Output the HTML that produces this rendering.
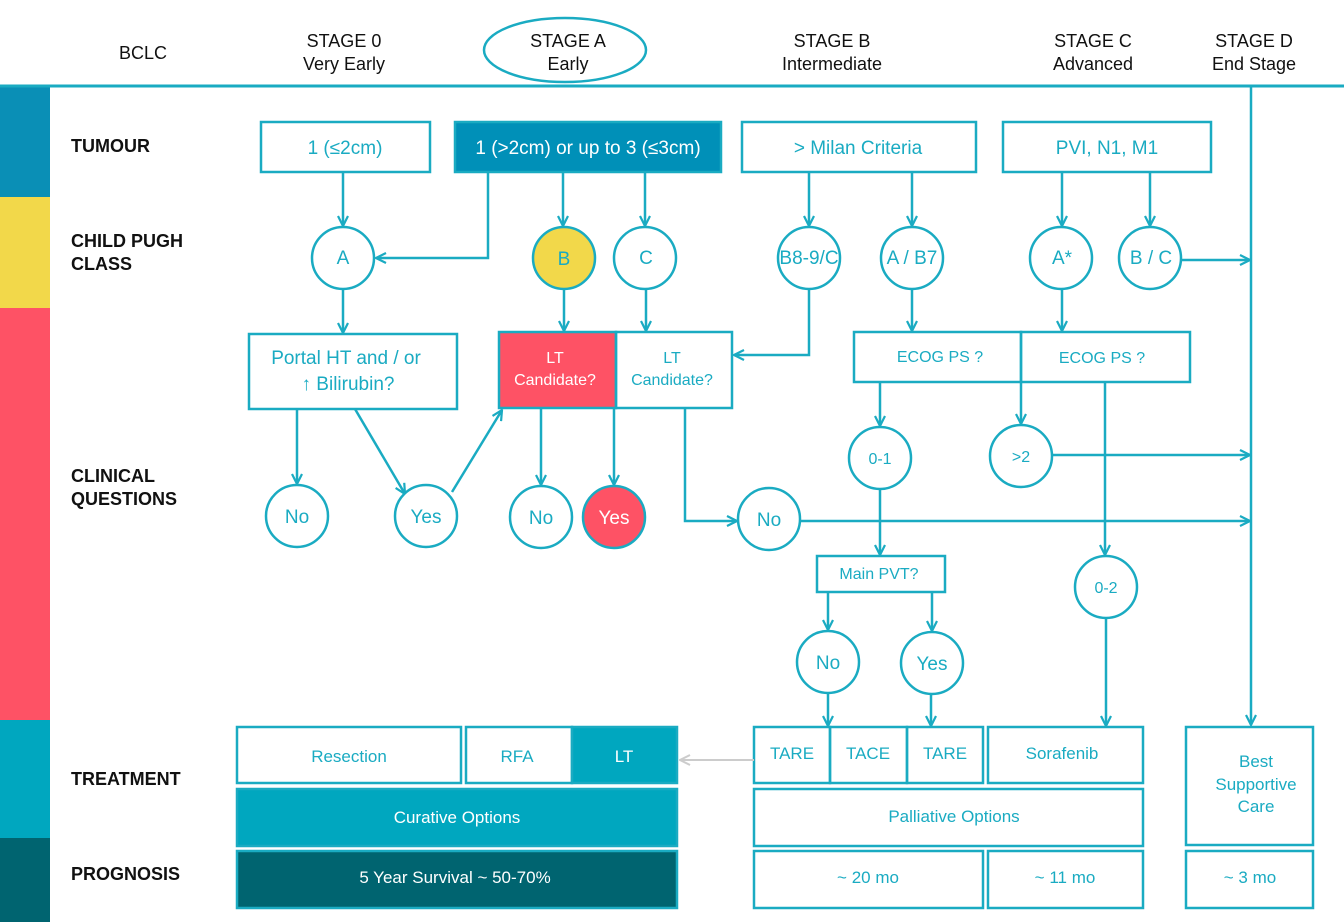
<!DOCTYPE html>
<html><head><style>body{margin:0;background:#fff}svg{display:block}</style></head><body>
<svg width="1344" height="922" viewBox="0 0 1344 922" xmlns="http://www.w3.org/2000/svg" font-family="Liberation Sans, sans-serif">
<defs><marker id="a" viewBox="0 0 12 12" refX="11" refY="6" markerWidth="12" markerHeight="12" markerUnits="userSpaceOnUse" orient="auto"><polyline points="1,1 11,6 1,11" fill="none" stroke="#1aabc2" stroke-width="2.2"/></marker>
<marker id="g" viewBox="0 0 12 12" refX="11" refY="6" markerWidth="12" markerHeight="12" markerUnits="userSpaceOnUse" orient="auto"><polyline points="1,1 11,6 1,11" fill="none" stroke="#ccc" stroke-width="2"/></marker></defs>
<rect x="0" y="86" width="50" height="111" fill="#0a8fb6"/><rect x="0" y="197" width="50" height="111" fill="#f2d84a"/><rect x="0" y="308" width="50" height="412" fill="#fe5265"/><rect x="0" y="720" width="50" height="118" fill="#00a7bf"/><rect x="0" y="838" width="50" height="84" fill="#006470"/>
<line x1="0" y1="86" x2="1344" y2="86" stroke="#1aabc2" stroke-width="3"/>
<g font-size="18" fill="#111" text-anchor="middle">
<text x="143" y="59">BCLC</text><text x="344" y="47">STAGE 0</text><text x="344" y="70">Very Early</text>
<text x="568" y="47">STAGE A</text><text x="568" y="70">Early</text>
<text x="832" y="47">STAGE B</text><text x="832" y="70">Intermediate</text>
<text x="1093" y="47">STAGE C</text><text x="1093" y="70">Advanced</text>
<text x="1254" y="47">STAGE D</text><text x="1254" y="70">End Stage</text></g>
<ellipse cx="565" cy="50" rx="81" ry="32" fill="none" stroke="#1aabc2" stroke-width="2.5"/>
<g font-size="18" font-weight="bold" fill="#111"><text x="71" y="152">TUMOUR</text><text x="71" y="247">CHILD  PUGH</text><text x="71" y="270">CLASS</text><text x="71" y="482">CLINICAL</text><text x="71" y="505">QUESTIONS</text><text x="71" y="785">TREATMENT</text><text x="71" y="880">PROGNOSIS</text></g>
<g stroke="#1aabc2" stroke-width="2.5" fill="none">
<line x1="1251" y1="86" x2="1251" y2="725" marker-end="url(#a)"/>
<rect x="261" y="122" width="169" height="50"/><rect x="455" y="122" width="266" height="50" fill="#0090b8"/><rect x="742" y="122" width="234" height="50"/><rect x="1003" y="122" width="208" height="50"/>
<line x1="343" y1="172" x2="343" y2="226" marker-end="url(#a)"/>
<polyline points="488,172 488,258 376,258" marker-end="url(#a)"/>
<line x1="563" y1="172" x2="563" y2="226" marker-end="url(#a)"/><line x1="645" y1="172" x2="645" y2="226" marker-end="url(#a)"/>
<line x1="809" y1="172" x2="809" y2="226" marker-end="url(#a)"/><line x1="912" y1="172" x2="912" y2="226" marker-end="url(#a)"/>
<line x1="1062" y1="172" x2="1062" y2="226" marker-end="url(#a)"/><line x1="1150" y1="172" x2="1150" y2="226" marker-end="url(#a)"/>
<line x1="1182" y1="260" x2="1250" y2="260" marker-end="url(#a)"/>
<ellipse cx="343" cy="258" rx="31" ry="31"/><ellipse cx="564" cy="258" rx="31" ry="31" fill="#f2d84a"/><ellipse cx="645" cy="258" rx="31" ry="31"/><ellipse cx="809" cy="258" rx="31" ry="31"/><ellipse cx="912" cy="258" rx="31" ry="31"/><ellipse cx="1061" cy="258" rx="31" ry="31"/><ellipse cx="1150" cy="258" rx="31" ry="31"/>
<line x1="343" y1="289" x2="343" y2="333" marker-end="url(#a)"/>
<line x1="564" y1="289" x2="564" y2="331" marker-end="url(#a)"/><line x1="646" y1="289" x2="646" y2="331" marker-end="url(#a)"/>
<polyline points="809,289 809,355 734,355" marker-end="url(#a)"/>
<line x1="912" y1="289" x2="912" y2="331" marker-end="url(#a)"/><line x1="1062" y1="289" x2="1062" y2="331" marker-end="url(#a)"/>
<rect x="249" y="334" width="208" height="75"/><rect x="499" y="332" width="117" height="76" fill="#fe5265"/><rect x="616" y="332" width="116" height="76"/>
<rect x="854" y="332" width="167" height="50"/><rect x="1021" y="332" width="169" height="50"/>
<line x1="297" y1="409" x2="297" y2="484" marker-end="url(#a)"/>
<line x1="355" y1="409" x2="405" y2="494" marker-end="url(#a)"/>
<line x1="452" y1="492" x2="502" y2="410" marker-end="url(#a)"/>
<line x1="541" y1="408" x2="541" y2="485" marker-end="url(#a)"/><line x1="614" y1="408" x2="614" y2="485" marker-end="url(#a)"/>
<polyline points="685,408 685,521 737,521" marker-end="url(#a)"/>
<line x1="801" y1="521" x2="1250" y2="521" marker-end="url(#a)"/>
<line x1="880" y1="382" x2="880" y2="426" marker-end="url(#a)"/><line x1="1021" y1="382" x2="1021" y2="424" marker-end="url(#a)"/>
<line x1="1052" y1="455" x2="1250" y2="455" marker-end="url(#a)"/>
<line x1="1105" y1="382" x2="1105" y2="555" marker-end="url(#a)"/>
<line x1="880" y1="489" x2="880" y2="555" marker-end="url(#a)"/>
<line x1="1106" y1="618" x2="1106" y2="726" marker-end="url(#a)"/>
<rect x="817" y="556" width="128" height="36"/>
<line x1="828" y1="592" x2="828" y2="630" marker-end="url(#a)"/><line x1="932" y1="592" x2="932" y2="631" marker-end="url(#a)"/>
<line x1="828" y1="693" x2="828" y2="726" marker-end="url(#a)"/><line x1="931" y1="694" x2="931" y2="726" marker-end="url(#a)"/>
<ellipse cx="297" cy="516" rx="31" ry="31" fill="#fff"/><ellipse cx="426" cy="516" rx="31" ry="31" fill="#fff"/><ellipse cx="541" cy="517" rx="31" ry="31" fill="#fff"/><ellipse cx="614" cy="517" rx="31" ry="31" fill="#fe5265"/><ellipse cx="769" cy="519" rx="31" ry="31" fill="#fff"/>
<ellipse cx="880" cy="458" rx="31" ry="31" fill="#fff"/><ellipse cx="1021" cy="456" rx="31" ry="31" fill="#fff"/><ellipse cx="1106" cy="587" rx="31" ry="31" fill="#fff"/><ellipse cx="828" cy="662" rx="31" ry="31" fill="#fff"/><ellipse cx="932" cy="663" rx="31" ry="31" fill="#fff"/>
<rect x="237" y="727" width="224" height="56"/><rect x="466" y="727" width="106" height="56"/><rect x="572" y="727" width="105" height="56" fill="#00a7bf"/>
<rect x="754" y="727" width="76" height="56"/><rect x="830" y="727" width="77" height="56"/><rect x="907" y="727" width="76" height="56"/><rect x="988" y="727" width="155" height="56"/><rect x="1186" y="727" width="127" height="118"/>
<rect x="237" y="789" width="440" height="57" fill="#00a7bf"/><rect x="754" y="789" width="389" height="57"/>
<rect x="237" y="851" width="440" height="57" fill="#006470"/><rect x="754" y="851" width="229" height="57"/><rect x="988" y="851" width="155" height="57"/><rect x="1186" y="851" width="127" height="57"/>
</g>
<line x1="754" y1="760" x2="680" y2="760" stroke="#ccc" stroke-width="2" marker-end="url(#g)"/>
<g font-size="19" fill="#1aabc2" text-anchor="middle">
<text x="345" y="154">1 (≤2cm)</text><text x="588" y="154" fill="#fff">1 (&gt;2cm) or up to 3 (≤3cm)</text><text x="858" y="154">&gt; Milan Criteria</text><text x="1107" y="154">PVI, N1, M1</text>
<text x="343" y="264">A</text><text x="564" y="265">B</text><text x="646" y="264">C</text><text x="809" y="264">B8-9/C</text><text x="912" y="264">A / B7</text><text x="1062" y="264">A*</text><text x="1151" y="264">B / C</text>
<text x="346" y="364">Portal HT and / or</text><text x="348" y="390">↑ Bilirubin?</text>
<g font-size="16"><text x="555" y="363" fill="#fff">LT</text><text x="555" y="385" fill="#fff">Candidate?</text><text x="672" y="363">LT</text><text x="672" y="385">Candidate?</text>
<text x="940" y="362">ECOG PS ?</text><text x="1102" y="363">ECOG PS ?</text>
<text x="880" y="464">0-1</text><text x="1021" y="462">&gt;2</text><text x="1106" y="593">0-2</text><text x="879" y="579">Main PVT?</text></g>
<text x="297" y="523">No</text><text x="426" y="523">Yes</text><text x="541" y="524">No</text><text x="614" y="524" fill="#fff">Yes</text><text x="769" y="526">No</text>
<text x="828" y="669">No</text><text x="932" y="670">Yes</text>
<g font-size="17"><text x="349" y="762">Resection</text><text x="517" y="762">RFA</text><text x="624" y="762" fill="#fff">LT</text>
<text x="792" y="759">TARE</text><text x="868" y="759">TACE</text><text x="945" y="759">TARE</text><text x="1062" y="759">Sorafenib</text>
<text x="1256" y="767">Best</text><text x="1256" y="790">Supportive</text><text x="1256" y="812">Care</text>
<text x="457" y="823" fill="#fff">Curative Options</text><text x="954" y="822">Palliative Options</text>
<text x="455" y="883" fill="#fff">5 Year Survival ~ 50-70%</text><text x="868" y="883">~ 20 mo</text><text x="1065" y="883">~ 11 mo</text><text x="1250" y="883">~ 3 mo</text></g>
</g>
</svg>
</body></html>
